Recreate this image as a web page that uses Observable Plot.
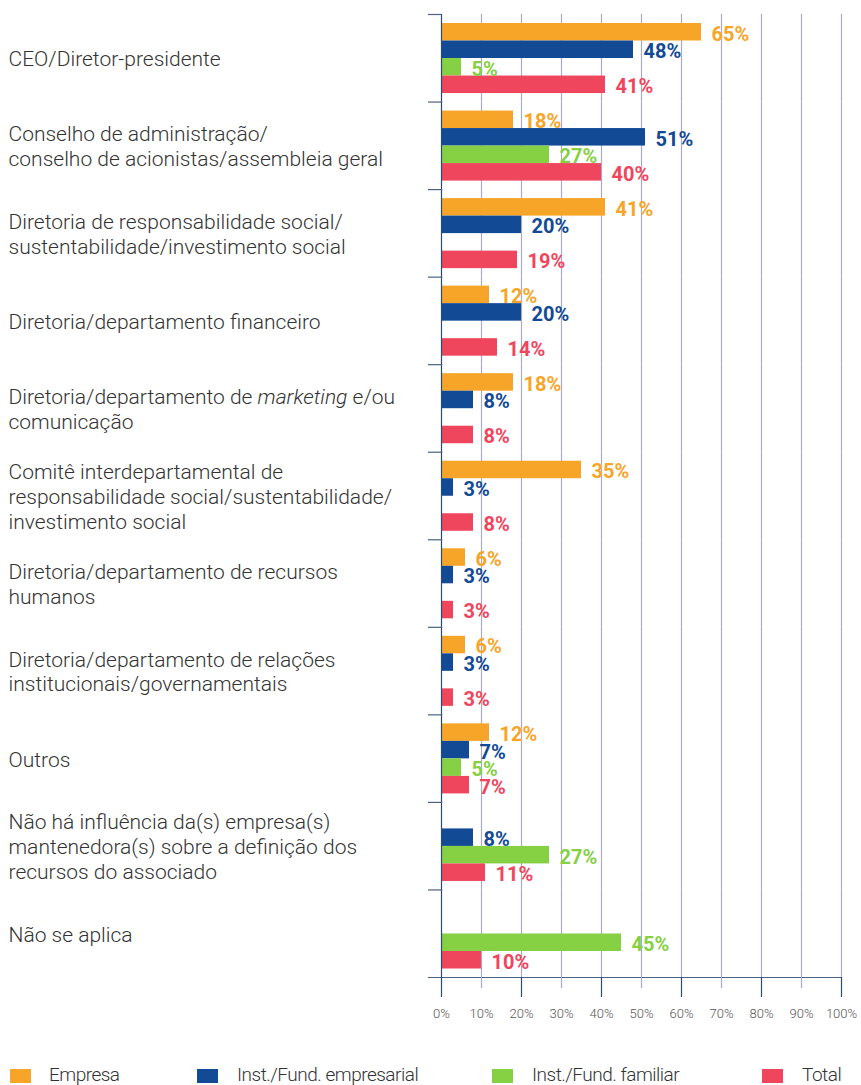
<!DOCTYPE html>
<html>
<head>
<meta charset="utf-8">
<script src="https://cdn.jsdelivr.net/npm/d3@7"></script>
<script src="https://cdn.jsdelivr.net/npm/@observablehq/plot@0.6"></script>
<style>
  html, body { margin: 0; padding: 0; background: #fff; }
  #chart { width: 861px; height: 1030px; }
  #legend { position: relative; width: 861px; height: 55px; font-family: Roboto, sans-serif; font-weight: 300; font-size: 19px; color: #333; letter-spacing: -0.5px; }
  #legend .sw { position: absolute; top: 39px; width: 21px; height: 14px; }
  #legend .lb { position: absolute; top: 33px; line-height: 24px; }
</style>
</head>
<body>
<div id="chart"></div>
<div id="legend"></div>
<script>
const categories = [
  "CEO/Diretor-presidente",
  "Conselho de administração/\nconselho de acionistas/assembleia geral",
  "Diretoria de responsabilidade social/\nsustentabilidade/investimento social",
  "Diretoria/departamento financeiro",
  "Diretoria/departamento de marketing e/ou\ncomunicação",
  "Comitê interdepartamental de\nresponsabilidade social/sustentabilidade/\ninvestimento social",
  "Diretoria/departamento de recursos\nhumanos",
  "Diretoria/departamento de relações\ninstitucionais/governamentais",
  "Outros",
  "Não há influência da(s) empresa(s)\nmantenedora(s) sobre a definição dos\nrecursos do associado",
  "Não se aplica"
];
const seriesNames = ["Empresa", "Inst./Fund. empresarial", "Inst./Fund. familiar", "Total"];
const empresa = [65, 18, 41, 12, 18, 35, 6, 6, 12, null, null];
const instEmpresarial = [48, 51, 20, 20, 8, 3, 3, 3, 7, 8, null];
const instFamiliar = [5, 27, null, null, null, null, null, null, 5, 27, 45];
const total = [41, 40, 19, 14, 8, 8, 3, 3, 7, 11, 10];
const xTicks = [0, 10, 20, 30, 40, 50, 60, 70, 80, 90, 100];
const majorTicks = [0, 20, 40, 60, 80, 100];
const colors = ["#F7A528", "#134A96", "#86D044", "#EF465E"];

const seriesValues = [empresa, instEmpresarial, instFamiliar, total];
const data = [];
categories.forEach((c, i) => {
  seriesNames.forEach((s, j) => {
    const v = seriesValues[j][i];
    if (v != null) data.push({category: c, series: s, value: v});
  });
});

const dark = "#2f4b6c";
const sep = "#4a6283";
const grid = "#a9acc0";

const chart = Plot.plot({
  width: 861,
  height: 1030,
  marginTop: 14,
  marginBottom: 53,
  marginLeft: 441,
  marginRight: 20,
  style: {fontFamily: "Roboto, sans-serif", background: "#fff"},
  x: {domain: [0, 100], axis: null},
  y: {domain: seriesNames, padding: 0, round: false, insetTop: 9, insetBottom: 8.5, axis: null},
  fy: {domain: categories, padding: 0, round: false, axis: null},
  color: {domain: seriesNames, range: colors},
  marks: [
    Plot.gridX({ticks: xTicks.filter(d => d > 0), stroke: grid, strokeOpacity: 1, strokeWidth: 1.2}),
    Plot.barX(data, {fy: "category", y: "series", x: "value", fill: "series"}),
    Plot.text(data, {
      fy: "category", y: "series", x: "value",
      text: d => d.value + "%", fill: "series",
      textAnchor: "start", dx: 10, dy: 2,
      fontWeight: 700, fontSize: 20
    }),
    Plot.frame({anchor: "left", stroke: dark, strokeWidth: 1.2}),
    Plot.frame({anchor: "top", insetLeft: -13, insetRight: 400, stroke: sep, strokeWidth: 1.2}),
    Plot.frame({anchor: "bottom", facetAnchor: "bottom", insetLeft: -13, stroke: sep, strokeWidth: 1.2}),
    Plot.text(categories, {
      fy: d => d, frameAnchor: "left", dx: -433,
      text: d => d, textAnchor: "start",
      fontSize: 21, fontWeight: 300, lineHeight: 1.18, fill: "#333"
    }),
    Plot.axisX({ticks: xTicks.filter(d => !majorTicks.includes(d)), tickSize: 11, stroke: grid, strokeWidth: 1.2, tickFormat: () => "", label: null}),
    Plot.axisX({ticks: majorTicks, tickSize: 20, stroke: dark, strokeWidth: 1.2, tickFormat: () => "", label: null}),
    Plot.axisX({ticks: xTicks, tickSize: 0, tickPadding: 31, tickFormat: d => d + "%", fontSize: 13, fontWeight: 300, fill: "#555", label: null})
  ]
});
document.getElementById("chart").appendChild(chart);

// italicize "marketing"
chart.querySelectorAll("tspan, text").forEach(el => {
  if (el.children.length === 0 && el.textContent.startsWith("Diretoria/departamento de marketing")) {
    const ns = "http://www.w3.org/2000/svg";
    el.textContent = "Diretoria/departamento de ";
    const it = document.createElementNS(ns, "tspan");
    it.setAttribute("font-style", "italic");
    it.textContent = "marketing";
    el.appendChild(it);
    el.appendChild(document.createTextNode(" e/ou"));
  }
});

// legend
const legend = document.getElementById("legend");
const swX = [10, 197, 492, 762];
const lbX = [49, 237, 532, 802];
seriesNames.forEach((s, i) => {
  const sw = document.createElement("div");
  sw.className = "sw";
  sw.style.left = swX[i] + "px";
  sw.style.background = colors[i];
  legend.appendChild(sw);
  const lb = document.createElement("div");
  lb.className = "lb";
  lb.style.left = lbX[i] + "px";
  lb.textContent = s;
  legend.appendChild(lb);
});
</script>
</body>
</html>
